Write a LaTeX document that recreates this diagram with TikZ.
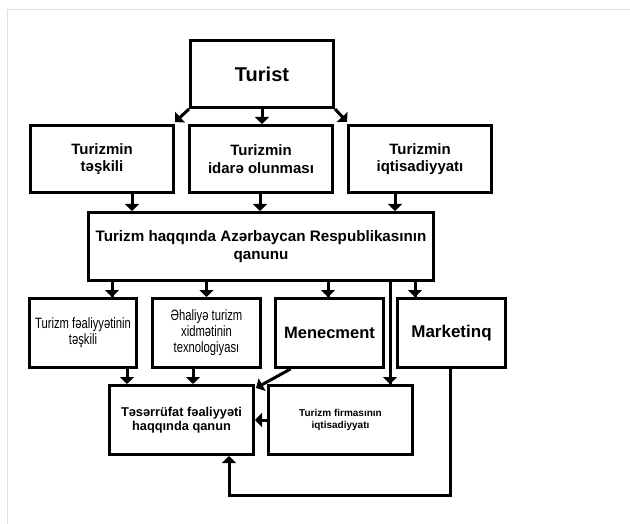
\documentclass[tikz,border=0pt]{standalone}
\usepackage{fontspec}
\setmainfont{Liberation Sans}
\newfontfamily\narrowfont[FakeStretch=0.75]{Liberation Sans}
\usetikzlibrary{arrows.meta,calc}
\tikzset{
  box/.style={draw=black, line width=3pt, rectangle, align=center, inner sep=2pt, text=black},
  arr/.style={line width=3pt, -{Triangle[width=14pt,length=7pt]}},
  frame/.style={draw=black!12, line width=1pt}
}
\begin{document}
\begin{tikzpicture}[x=1pt,y=-1pt]
\useasboundingbox (0,0) rectangle (630,524);
\draw[frame] (7,524) -- (7,10) -- (630,10);

\node[box, minimum width=143pt, minimum height=67pt, font=\fontsize{20}{23}\selectfont\bfseries] (tur) at (262,74) {Turist};

\node[box, minimum width=143pt, minimum height=67pt, font=\fontsize{15}{17.5}\selectfont\bfseries] (b1) at (102,159) {Turizmin\\təşkili};
\node[box, minimum width=143pt, minimum height=67pt, font=\fontsize{15}{17.5}\selectfont\bfseries] (b2) at (261,159) {Turizmin\\idarə olunması};
\node[box, minimum width=143pt, minimum height=67pt, font=\fontsize{15}{17.5}\selectfont\bfseries] (b3) at (420,159) {Turizmin\\iqtisadiyyatı};

\node[box, minimum width=345pt, minimum height=68pt, font=\fontsize{15.2}{17.5}\selectfont\bfseries] (law) at (261,246.5) {Turizm haqqında Azərbaycan Respublikasının\\qanunu};

\node[box, minimum width=107pt, minimum height=69pt, font=\fontsize{15}{16}\narrowfont] (ra) at (83,333) {Turizm fəaliyyətinin\\təşkili};
\node[box, minimum width=108pt, minimum height=69pt, font=\fontsize{15}{16}\narrowfont] (rb) at (206.5,333) {Əhaliyə turizm\\xidmətinin\\texnologiyası};
\node[box, minimum width=108pt, minimum height=69pt, font=\fontsize{16.5}{19}\selectfont\bfseries] (rc) at (329.5,333) {Menecment};
\node[box, minimum width=108pt, minimum height=69pt, font=\fontsize{17}{19}\selectfont\bfseries] (rd) at (451.5,333) {Marketinq};

\node[box, minimum width=144pt, minimum height=69pt, font=\fontsize{12.8}{13.5}\selectfont\bfseries] (tq) at (181.5,420) {Təsərrüfat fəaliyyəti\\haqqında qanun};
\node[box, minimum width=144pt, minimum height=69pt, font=\fontsize{10}{12}\selectfont\bfseries] (tf) at (340.5,420) {Turizm firmasının\\iqtisadiyyatı};

% Turist -> row 2
\draw[arr] (tur.south west) -- ([yshift=2pt]b1.north east);
\draw[arr] (tur.south) -- (tur.south |- b2.north);
\draw[arr] (tur.south east) -- ([yshift=2pt]b3.north west);

% row 2 -> law
\draw[arr] ([xshift=30pt]b1.south) coordinate (p1) -- (p1 |- law.north);
\draw[arr] ([xshift=-1pt]b2.south) coordinate (p2) -- (p2 |- law.north);
\draw[arr] ([xshift=-25pt]b3.south) coordinate (p3) -- (p3 |- law.north);

% law -> row 3
\draw[arr] ([xshift=29pt]ra.north) coordinate (q1) -- (q1 |- law.south) -- (q1);
\draw[arr] (rb.north |- law.south) -- (rb.north);
\draw[arr] ([xshift=-1.5pt]rc.north) coordinate (q3) -- (q3 |- law.south) -- (q3);
\draw[arr] ([xshift=-36.5pt]rd.north) coordinate (q4) -- (q4 |- law.south) -- (q4);
\draw[arr] ([xshift=49.5pt]tf.north) coordinate (q5) -- (q5 |- law.south) -- (q5);

% row 3 -> bottom
\draw[arr] ([xshift=44pt]ra.south) coordinate (s1) -- (s1 |- tq.north);
\draw[arr] ([xshift=-13.5pt]rb.south) coordinate (s2) -- (s2 |- tq.north);
\draw[arr] ([xshift=-39pt]rc.south) -- ([xshift=1pt,yshift=-4pt]tq.north east);
\draw[arr] (tf.west) -- (tq.east);
\draw[arr] ([xshift=-1.5pt]rd.south) coordinate (m1) -- (m1 |- 0,495) coordinate (m2)
  -- ([xshift=47.5pt]tq.south |- m2) coordinate (m3) -- ([xshift=47.5pt]tq.south);
\end{tikzpicture}
\end{document}
